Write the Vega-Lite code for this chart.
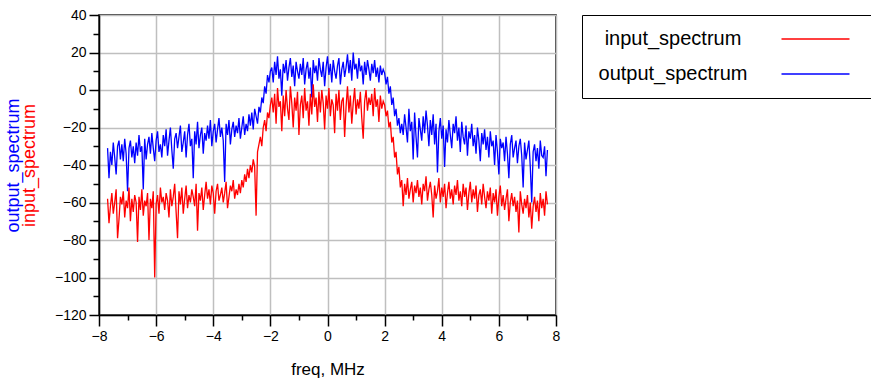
{
"$schema": "https://vega.github.io/schema/vega-lite/v6.json",
"width": 457, "height": 300,
"autosize": {"type": "none"},
"padding": {"left": 99, "top": 15, "right": 315, "bottom": 68},
"background": "white",
"config": {"font": "Liberation Sans", "view": {"stroke": "black", "strokeWidth": 1.5}},
"data": {"values": [
{"f":-7.7,"i":-58,"o":-31},{"f":-7.65,"i":-71,"o":-47},{"f":-7.6,"i":-62,"o":-33},{"f":-7.55,"i":-55,"o":-40},{"f":-7.5,"i":-66,"o":-28},
{"f":-7.45,"i":-60,"o":-36},{"f":-7.4,"i":-53,"o":-45},{"f":-7.35,"i":-79,"o":-30},{"f":-7.3,"i":-69,"o":-27},{"f":-7.25,"i":-57,"o":-37},
{"f":-7.2,"i":-61,"o":-29},{"f":-7.15,"i":-54,"o":-38},{"f":-7.1,"i":-68,"o":-26},{"f":-7.05,"i":-59,"o":-34},{"f":-7.0,"i":-63,"o":-54},
{"f":-6.95,"i":-52,"o":-31},{"f":-6.9,"i":-70,"o":-27},{"f":-6.85,"i":-58,"o":-36},{"f":-6.8,"i":-65,"o":-30},{"f":-6.75,"i":-56,"o":-39},
{"f":-6.7,"i":-60,"o":-28},{"f":-6.65,"i":-81,"o":-35},{"f":-6.6,"i":-57,"o":-24},{"f":-6.55,"i":-64,"o":-33},{"f":-6.5,"i":-53,"o":-30},
{"f":-6.45,"i":-67,"o":-53},{"f":-6.4,"i":-59,"o":-26},{"f":-6.35,"i":-62,"o":-37},{"f":-6.3,"i":-55,"o":-29},{"f":-6.25,"i":-80,"o":-25},
{"f":-6.2,"i":-58,"o":-34},{"f":-6.15,"i":-63,"o":-23},{"f":-6.1,"i":-54,"o":-31},{"f":-6.05,"i":-100,"o":-38},{"f":-6.0,"i":-61,"o":-27},
{"f":-5.95,"i":-56,"o":-22},{"f":-5.9,"i":-66,"o":-33},{"f":-5.85,"i":-52,"o":-29},{"f":-5.8,"i":-60,"o":-36},{"f":-5.75,"i":-57,"o":-24},
{"f":-5.7,"i":-64,"o":-30},{"f":-5.65,"i":-55,"o":-21},{"f":-5.6,"i":-59,"o":-35},{"f":-5.55,"i":-68,"o":-27},{"f":-5.5,"i":-53,"o":-20},
{"f":-5.45,"i":-62,"o":-32},{"f":-5.4,"i":-57,"o":-42},{"f":-5.35,"i":-50,"o":-26},{"f":-5.3,"i":-65,"o":-23},{"f":-5.25,"i":-79,"o":-31},
{"f":-5.2,"i":-54,"o":-25},{"f":-5.15,"i":-61,"o":-19},{"f":-5.1,"i":-52,"o":-33},{"f":-5.05,"i":-66,"o":-28},{"f":-5.0,"i":-58,"o":-22},
{"f":-4.95,"i":-51,"o":-36},{"f":-4.9,"i":-63,"o":-24},{"f":-4.85,"i":-56,"o":-18},{"f":-4.8,"i":-60,"o":-30},{"f":-4.75,"i":-53,"o":-26},
{"f":-4.7,"i":-57,"o":-47},{"f":-4.65,"i":-62,"o":-22},{"f":-4.6,"i":-50,"o":-29},{"f":-4.55,"i":-75,"o":-17},{"f":-4.5,"i":-55,"o":-31},
{"f":-4.45,"i":-59,"o":-24},{"f":-4.4,"i":-52,"o":-20},{"f":-4.35,"i":-64,"o":-34},{"f":-4.3,"i":-56,"o":-23},{"f":-4.25,"i":-49,"o":-27},
{"f":-4.2,"i":-58,"o":-19},{"f":-4.15,"i":-53,"o":-26},{"f":-4.1,"i":-61,"o":-16},{"f":-4.05,"i":-51,"o":-30},{"f":-4.0,"i":-55,"o":-22},
{"f":-3.95,"i":-66,"o":-18},{"f":-3.9,"i":-54,"o":-28},{"f":-3.85,"i":-50,"o":-21},{"f":-3.8,"i":-59,"o":-15},{"f":-3.75,"i":-56,"o":-25},
{"f":-3.7,"i":-52,"o":-20},{"f":-3.65,"i":-60,"o":-27},{"f":-3.6,"i":-55,"o":-49},{"f":-3.55,"i":-49,"o":-18},{"f":-3.5,"i":-63,"o":-24},
{"f":-3.45,"i":-57,"o":-16},{"f":-3.4,"i":-51,"o":-29},{"f":-3.35,"i":-54,"o":-21},{"f":-3.3,"i":-48,"o":-17},{"f":-3.25,"i":-58,"o":-25},
{"f":-3.2,"i":-53,"o":-19},{"f":-3.15,"i":-56,"o":-23},{"f":-3.1,"i":-50,"o":-15},{"f":-3.05,"i":-55,"o":-26},{"f":-3.0,"i":-48,"o":-20},
{"f":-2.95,"i":-52,"o":-14},{"f":-2.9,"i":-45,"o":-24},{"f":-2.85,"i":-49,"o":-18},{"f":-2.8,"i":-42,"o":-22},{"f":-2.75,"i":-47,"o":-13},
{"f":-2.7,"i":-40,"o":-19},{"f":-2.65,"i":-44,"o":-12},{"f":-2.6,"i":-37,"o":-21},{"f":-2.55,"i":-41,"o":-10},{"f":-2.5,"i":-67,"o":-14},
{"f":-2.45,"i":-33,"o":-18},{"f":-2.4,"i":-29,"o":-9},{"f":-2.35,"i":-25,"o":-12},{"f":-2.3,"i":-30,"o":-4},{"f":-2.25,"i":-20,"o":-7},
{"f":-2.2,"i":-16,"o":2},{"f":-2.15,"i":-22,"o":-2},{"f":-2.1,"i":-12,"o":8},{"f":-2.05,"i":-15,"o":4},{"f":-2.0,"i":-8,"o":10},
{"f":-1.95,"i":-4,"o":12},{"f":-1.9,"i":-12,"o":4},{"f":-1.85,"i":-2,"o":15},{"f":-1.8,"i":-18,"o":8},{"f":-1.75,"i":1,"o":18},
{"f":-1.7,"i":-9,"o":6},{"f":-1.65,"i":-6,"o":11},{"f":-1.6,"i":-22,"o":-3},{"f":-1.55,"i":-3,"o":14},{"f":-1.5,"i":-14,"o":9},
{"f":-1.45,"i":0,"o":16},{"f":-1.4,"i":-10,"o":5},{"f":-1.35,"i":-16,"o":12},{"f":-1.3,"i":2,"o":17},{"f":-1.25,"i":-7,"o":7},
{"f":-1.2,"i":-20,"o":13},{"f":-1.15,"i":-4,"o":2},{"f":-1.1,"i":-11,"o":15},{"f":-1.05,"i":-1,"o":10},{"f":-1.0,"i":-24,"o":6},
{"f":-0.95,"i":-8,"o":14},{"f":-0.9,"i":-3,"o":8},{"f":-0.85,"i":-15,"o":17},{"f":-0.8,"i":1,"o":3},{"f":-0.75,"i":-11,"o":11},
{"f":-0.7,"i":-6,"o":15},{"f":-0.65,"i":-19,"o":6},{"f":-0.6,"i":-2,"o":12},{"f":-0.55,"i":-13,"o":-4},{"f":-0.5,"i":3,"o":16},
{"f":-0.45,"i":-9,"o":9},{"f":-0.4,"i":-4,"o":13},{"f":-0.35,"i":-17,"o":5},{"f":-0.3,"i":-1,"o":17},{"f":-0.25,"i":-12,"o":11},
{"f":-0.2,"i":0,"o":7},{"f":-0.15,"i":-7,"o":15},{"f":-0.1,"i":-21,"o":2},{"f":-0.05,"i":-3,"o":12},{"f":0.0,"i":-10,"o":18},
{"f":0.05,"i":1,"o":8},{"f":0.1,"i":-14,"o":14},{"f":0.15,"i":-5,"o":4},{"f":0.2,"i":-8,"o":16},{"f":0.25,"i":-23,"o":10},
{"f":0.3,"i":-2,"o":6},{"f":0.35,"i":-11,"o":13},{"f":0.4,"i":0,"o":17},{"f":0.45,"i":-16,"o":3},{"f":0.5,"i":-6,"o":11},
{"f":0.55,"i":-4,"o":15},{"f":0.6,"i":-25,"o":7},{"f":0.65,"i":-9,"o":12},{"f":0.7,"i":2,"o":19},{"f":0.75,"i":-12,"o":9},
{"f":0.8,"i":-3,"o":16},{"f":0.85,"i":-18,"o":5},{"f":0.9,"i":-7,"o":20},{"f":0.95,"i":1,"o":11},{"f":1.0,"i":-13,"o":14},
{"f":1.05,"i":-5,"o":6},{"f":1.1,"i":-10,"o":17},{"f":1.15,"i":-1,"o":10},{"f":1.2,"i":-15,"o":13},{"f":1.25,"i":-26,"o":3},
{"f":1.3,"i":-6,"o":15},{"f":1.35,"i":0,"o":8},{"f":1.4,"i":-11,"o":16},{"f":1.45,"i":-4,"o":11},{"f":1.5,"i":-8,"o":5},
{"f":1.55,"i":-2,"o":14},{"f":1.6,"i":-14,"o":9},{"f":1.65,"i":1,"o":16},{"f":1.7,"i":-9,"o":7},{"f":1.75,"i":-5,"o":12},
{"f":1.8,"i":-17,"o":4},{"f":1.85,"i":-3,"o":13},{"f":1.9,"i":-10,"o":8},{"f":1.95,"i":-6,"o":11},{"f":2.0,"i":-8,"o":9},
{"f":2.05,"i":-14,"o":3},{"f":2.1,"i":-11,"o":7},{"f":2.15,"i":-20,"o":-2},{"f":2.2,"i":-17,"o":2},{"f":2.25,"i":-28,"o":-8},
{"f":2.3,"i":-25,"o":-4},{"f":2.35,"i":-36,"o":-14},{"f":2.4,"i":-33,"o":-10},{"f":2.45,"i":-45,"o":-19},{"f":2.5,"i":-41,"o":-15},
{"f":2.55,"i":-52,"o":-23},{"f":2.6,"i":-48,"o":-18},{"f":2.65,"i":-62,"o":-24},{"f":2.7,"i":-50,"o":-13},{"f":2.75,"i":-56,"o":-20},
{"f":2.8,"i":-47,"o":-28},{"f":2.85,"i":-58,"o":-10},{"f":2.9,"i":-53,"o":-22},{"f":2.95,"i":-49,"o":-17},{"f":3.0,"i":-60,"o":-37},
{"f":3.05,"i":-51,"o":-12},{"f":3.1,"i":-55,"o":-25},{"f":3.15,"i":-48,"o":-36},{"f":3.2,"i":-57,"o":-15},{"f":3.25,"i":-52,"o":-21},
{"f":3.3,"i":-61,"o":-27},{"f":3.35,"i":-50,"o":-14},{"f":3.4,"i":-54,"o":-23},{"f":3.45,"i":-46,"o":-11},{"f":3.5,"i":-59,"o":-19},
{"f":3.55,"i":-53,"o":-30},{"f":3.6,"i":-49,"o":-16},{"f":3.65,"i":-56,"o":-24},{"f":3.7,"i":-68,"o":-13},{"f":3.75,"i":-51,"o":-29},
{"f":3.8,"i":-58,"o":-18},{"f":3.85,"i":-54,"o":-44},{"f":3.9,"i":-47,"o":-22},{"f":3.95,"i":-60,"o":-15},{"f":4.0,"i":-52,"o":-26},
{"f":4.05,"i":-57,"o":-19},{"f":4.1,"i":-50,"o":-41},{"f":4.15,"i":-63,"o":-21},{"f":4.2,"i":-55,"o":-28},{"f":4.25,"i":-49,"o":-16},
{"f":4.3,"i":-58,"o":-24},{"f":4.35,"i":-53,"o":-31},{"f":4.4,"i":-61,"o":-18},{"f":4.45,"i":-51,"o":-23},{"f":4.5,"i":-56,"o":-14},
{"f":4.55,"i":-48,"o":-27},{"f":4.6,"i":-59,"o":-20},{"f":4.65,"i":-54,"o":-33},{"f":4.7,"i":-62,"o":-17},{"f":4.75,"i":-50,"o":-25},
{"f":4.8,"i":-57,"o":-29},{"f":4.85,"i":-52,"o":-19},{"f":4.9,"i":-64,"o":-35},{"f":4.95,"i":-55,"o":-22},{"f":5.0,"i":-49,"o":-26},
{"f":5.05,"i":-60,"o":-18},{"f":5.1,"i":-53,"o":-30},{"f":5.15,"i":-58,"o":-24},{"f":5.2,"i":-51,"o":-34},{"f":5.25,"i":-65,"o":-20},
{"f":5.3,"i":-56,"o":-27},{"f":5.35,"i":-53,"o":-38},{"f":5.4,"i":-61,"o":-23},{"f":5.45,"i":-50,"o":-29},{"f":5.5,"i":-57,"o":-21},
{"f":5.55,"i":-63,"o":-32},{"f":5.6,"i":-54,"o":-25},{"f":5.65,"i":-59,"o":-36},{"f":5.7,"i":-52,"o":-22},{"f":5.75,"i":-66,"o":-30},
{"f":5.8,"i":-55,"o":-27},{"f":5.85,"i":-60,"o":-40},{"f":5.9,"i":-53,"o":-24},{"f":5.95,"i":-67,"o":-33},{"f":6.0,"i":-57,"o":-45},
{"f":6.05,"i":-51,"o":-26},{"f":6.1,"i":-62,"o":-31},{"f":6.15,"i":-56,"o":-28},{"f":6.2,"i":-64,"o":-38},{"f":6.25,"i":-58,"o":-25},
{"f":6.3,"i":-53,"o":-34},{"f":6.35,"i":-70,"o":-47},{"f":6.4,"i":-60,"o":-29},{"f":6.45,"i":-55,"o":-24},{"f":6.5,"i":-62,"o":-36},
{"f":6.55,"i":-57,"o":-31},{"f":6.6,"i":-65,"o":-27},{"f":6.65,"i":-59,"o":-39},{"f":6.7,"i":-76,"o":-30},{"f":6.75,"i":-54,"o":-26},
{"f":6.8,"i":-61,"o":-35},{"f":6.85,"i":-66,"o":-52},{"f":6.9,"i":-58,"o":-28},{"f":6.95,"i":-63,"o":-37},{"f":7.0,"i":-56,"o":-32},
{"f":7.05,"i":-68,"o":-27},{"f":7.1,"i":-60,"o":-41},{"f":7.15,"i":-74,"o":-60},{"f":7.2,"i":-62,"o":-33},{"f":7.25,"i":-57,"o":-29},
{"f":7.3,"i":-65,"o":-38},{"f":7.35,"i":-59,"o":-31},{"f":7.4,"i":-70,"o":-42},{"f":7.45,"i":-55,"o":-27},{"f":7.5,"i":-63,"o":-35},
{"f":7.55,"i":-58,"o":-36},{"f":7.6,"i":-67,"o":-30},{"f":7.65,"i":-54,"o":-46},{"f":7.7,"i":-61,"o":-32}
]},
"transform": [{"fold": ["o", "i"], "as": ["series", "v"]}],
"layer": [
{
"mark": {"type": "line", "strokeWidth": 1.3},
"encoding": {
"x": {"field": "f", "type": "quantitative",
  "scale": {"domain": [-8, 8], "nice": false, "zero": false},
  "axis": {"orient": "bottom", "values": [-8,-6,-4,-2,0,2,4,6,8], "title": "freq, MHz",
    "titleFontSize": 17, "titleFontWeight": "normal", "titleColor": "black", "titlePadding": 18,
    "labelFontSize": 14, "labelColor": "black", "labelPadding": 3, "labelFlush": false, "labelOverlap": false,
    "tickSize": 11, "tickColor": "black", "tickWidth": 1.5,
    "domainColor": "black", "domainWidth": 1.5,
    "grid": true, "gridColor": "#bfbfbf", "gridWidth": 1.5}},
"y": {"field": "v", "type": "quantitative",
  "scale": {"domain": [-120, 40], "nice": false, "zero": false},
  "axis": {"orient": "left", "values": [-120,-100,-80,-60,-40,-20,0,20,40], "title": "input_spectrum",
    "titleFontSize": 18, "titleFontWeight": "normal", "titleColor": "#ff0000", "titlePadding": 16,
    "labelFontSize": 14, "labelColor": "black", "labelPadding": 3, "labelFlush": false, "labelOverlap": false,
    "tickSize": 10, "tickColor": "black", "tickWidth": 1.5,
    "domainColor": "black", "domainWidth": 1.5,
    "grid": true, "gridColor": "#bfbfbf", "gridWidth": 1.5}},
"color": {"field": "series", "type": "nominal",
  "scale": {"domain": ["i", "o"], "range": ["#ff0000", "#0000ff"]},
  "legend": {"orient": "none", "legendX": 483, "legendY": 0, "title": null,
    "labelExpr": "datum.value == 'i' ? 'input_spectrum' : 'output_spectrum'",
    "symbolType": "M-4,0H4M4.85,0", "symbolSize": 289, "symbolStrokeWidth": 1.5,
    "labelFontSize": 20, "labelColor": "black", "labelAlign": "center", "labelOffset": -152.5,
    "symbolOffset": 209.5, "padding": 14, "rowPadding": 15, "labelLimit": 400,
    "strokeColor": "black", "fillColor": "white"}}
}
},
{
"mark": {"type": "line", "opacity": 0},
"encoding": {
"x": {"field": "f", "type": "quantitative",
  "axis": {"orient": "bottom", "values": [-7,-5,-3,-1,1,3,5,7], "labels": false, "domain": false, "grid": false,
    "tickSize": 5, "tickColor": "black", "tickWidth": 1.5, "title": null}},
"y": {"field": "v", "type": "quantitative",
  "axis": {"orient": "left", "values": [-110,-90,-70,-50,-30,-10,10,30], "labels": false, "domain": false, "grid": false,
    "tickSize": 6, "tickColor": "black", "tickWidth": 1.5,
    "title": "output_spectrum", "titleFontSize": 18, "titleFontWeight": "normal", "titleColor": "#0000ff", "titlePadding": 70}}
}
}
],
"resolve": {"axis": {"x": "independent", "y": "independent"}}
}
